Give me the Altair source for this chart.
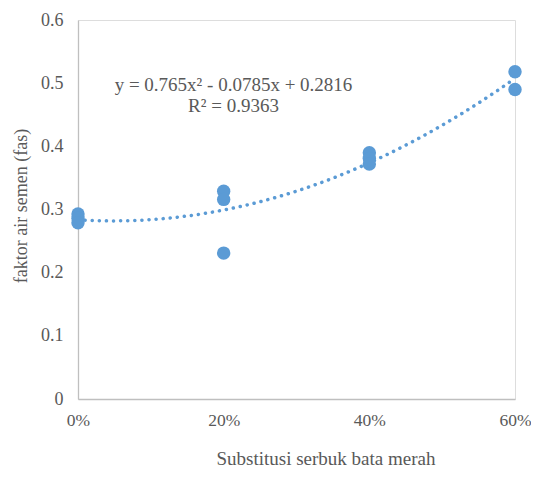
import altair as alt
import pandas as pd

substitusi = [0.0, 0.0, 0.0, 0.2, 0.2, 0.2, 0.4, 0.4, 0.4, 0.6, 0.6]
fas = [0.293, 0.286, 0.279, 0.329, 0.316, 0.231, 0.390, 0.381, 0.372, 0.518, 0.490]

eq_lines = ["y = 0.765x² - 0.0785x + 0.2816", "R² = 0.9363"]
eq_x = [0.2135, 0.2135]
eq_y = [0.497, 0.464]

df = pd.DataFrame({"x": substitusi, "y": fas})
df_eq = pd.DataFrame({"t": eq_lines, "x": eq_x, "y": eq_y})

FONT = "Liberation Serif"
BLUE = "#5B9BD5"
GRAY = "#595959"

xscale = alt.Scale(domain=[0, 0.6], nice=False)
yscale = alt.Scale(domain=[0, 0.6], nice=False)

xaxis = alt.Axis(title="Substitusi serbuk bata merah", format=".0%", values=[0, 0.2, 0.4, 0.6],
                 grid=False, ticks=False, domainColor="#bfbfbf", domainWidth=1.3,
                 labelFlush=False,
                 labelFont=FONT, labelFontSize=17.5, labelColor=GRAY, labelPadding=12,
                 titleFont=FONT, titleFontSize=19, titleColor=GRAY, titleFontWeight="normal",
                 titleX=247.5, titleY=65.5, titleAlign="center", titleBaseline="alphabetic")
yaxis = alt.Axis(title="faktor air semen (fas)", values=[0, 0.1, 0.2, 0.3, 0.4, 0.5, 0.6],
                 grid=False, ticks=False, domainColor="#bfbfbf", domainWidth=1.3,
                 labelFlush=False,
                 labelFont=FONT, labelFontSize=18, labelColor=GRAY, labelPadding=15,
                 labelExpr="datum.value == 0 ? '0' : format(datum.value, '.1f')",
                 titleFont=FONT, titleFontSize=18, titleColor=GRAY, titleFontWeight="normal",
                 titleX=-56.5, titleY=185.5, titleAlign="center", titleBaseline="middle")

base = alt.Chart(df)

trend = base.transform_regression("x", "y", method="poly", order=2, extent=[0, 0.6], params=False
    ).mark_line(color=BLUE, strokeWidth=3.5, strokeDash=[0.1, 7], strokeCap="round", clip=False
    ).encode(x=alt.X("x:Q", scale=xscale, axis=xaxis), y=alt.Y("y:Q", scale=yscale, axis=yaxis))

points = base.mark_circle(size=180, color=BLUE, opacity=1).encode(
    x=alt.X("x:Q", scale=xscale, axis=xaxis), y=alt.Y("y:Q", scale=yscale, axis=yaxis))

text = alt.Chart(df_eq).mark_text(font=FONT, fontSize=19, color=GRAY, align="center", baseline="middle"
    ).encode(x=alt.X("x:Q", scale=xscale), y=alt.Y("y:Q", scale=yscale), text="t:N")

chart = alt.layer(trend, points, text).properties(
    width=437, height=379,
    autosize=alt.AutoSizeParams(type="none"),
    padding={"left": 70, "top": 12, "right": 16, "bottom": 70},
).configure_view(stroke=None).configure(background="white")

chart.save("out.html", embed_options={"renderer": "svg", "actions": False})
